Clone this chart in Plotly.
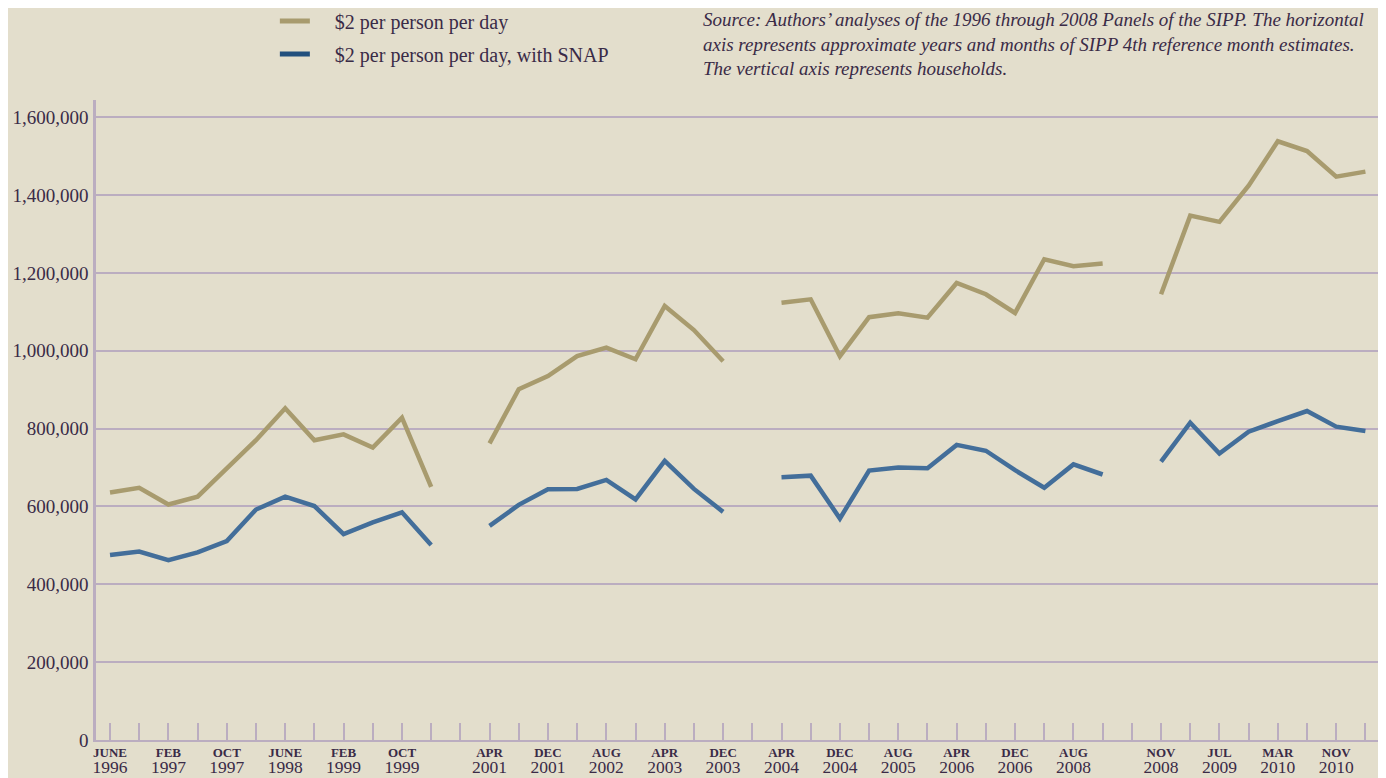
import plotly.graph_objects as go

# 44 four-month slots, June 1996 .. March 2011 (None = no estimate / panel gap)
slots = list(range(44))

poverty_2 = [
    636000, 648000, 605000, 625000, 698000, 770000, 852000, 770000, 785000, 751000, 828000, 650000,
    None,
    762000, 901000, 935000, 986000, 1008000, 978000, 1115000, 1053000, 973000,
    None,
    1123000, 1132000, 986000, 1086000, 1096000, 1085000, 1174000, 1145000, 1097000, 1235000, 1217000, 1224000,
    None,
    1145000, 1347000, 1331000, 1424000, 1538000, 1513000, 1447000, 1460000,
]

poverty_2_snap = [
    475000, 484000, 462000, 482000, 511000, 592000, 625000, 601000, 529000, 559000, 585000, 501000,
    None,
    550000, 604000, 644000, 645000, 668000, 618000, 717000, 645000, 586000,
    None,
    675000, 679000, 569000, 692000, 700000, 698000, 758000, 743000, 693000, 648000, 708000, 682000,
    None,
    715000, 815000, 736000, 792000, 819000, 845000, 805000, 794000,
]

label_slots = [0, 2, 4, 6, 8, 10, 13, 15, 17, 19, 21, 23, 25, 27, 29, 31, 33, 36, 38, 40, 42]
label_months = ["JUNE", "FEB", "OCT", "JUNE", "FEB", "OCT", "APR", "DEC", "AUG", "APR", "DEC",
                "APR", "DEC", "AUG", "APR", "DEC", "AUG", "NOV", "JUL", "MAR", "NOV"]
label_years = ["1996", "1997", "1997", "1998", "1999", "1999", "2001", "2001", "2002", "2003", "2003",
               "2004", "2004", "2005", "2006", "2006", "2008", "2008", "2009", "2010", "2010"]

y_ticks = [0, 200000, 400000, 600000, 800000, 1000000, 1200000, 1400000, 1600000]

series_names = ["$2 per person per day", "$2 per person per day, with SNAP"]

GOLD = "#A89B6E"
BLUE = "#436E9A"
BLUE_LEGEND = "#22507E"
TEXT = "#3A2B47"
GRID = "#BBADC0"
BG = "#E3DECC"
FONT = "Liberation Serif"

fig = go.Figure()
fig.add_trace(go.Scatter(x=slots, y=poverty_2, mode="lines", connectgaps=False,
                         line=dict(color=GOLD, width=4.5), showlegend=False, hoverinfo="skip"))
fig.add_trace(go.Scatter(x=slots, y=poverty_2_snap, mode="lines", connectgaps=False,
                         line=dict(color=BLUE, width=4.5), showlegend=False, hoverinfo="skip"))
# legend entries
nb = "\u00a0\u00a0\u00a0\u00a0"
fig.add_trace(go.Scatter(x=[None], y=[None], mode="lines", name=nb + series_names[0],
                         line=dict(color=GOLD, width=5), legendgroup="a"))
fig.add_trace(go.Scatter(x=[None], y=[None], mode="lines", name=nb + series_names[1],
                         line=dict(color=BLUE_LEGEND, width=5), legendgroup="b"))

ticktext = [f"<span style='font-size:13px'><b>{m}</b></span><br><span style='font-size:17.5px'>{y}</span>"
            for m, y in zip(label_months, label_years)]

# the page adds an 8px body margin, so the figure is sized/margined to compensate
fig.update_layout(
    width=1378, height=770,
    margin=dict(l=88, r=6, t=92, b=38, autoexpand=False),
    paper_bgcolor=BG, plot_bgcolor=BG,
    font=dict(family=FONT, color=TEXT, size=17),
    legend=dict(x=0.1393, y=1.154, xanchor="left", yanchor="top", bgcolor="rgba(0,0,0,0)",
                font=dict(size=20, color=TEXT), tracegroupgap=4, itemwidth=30),
    xaxis=dict(range=[-0.48, 43.5], tickvals=label_slots, ticktext=ticktext, automargin=False,
               ticks="inside", ticklen=17, tickcolor=GRID, tickwidth=1.5,
               showgrid=False, zeroline=False, showline=True, linecolor=GRID, linewidth=2,
               tickfont=dict(size=12.5, color=TEXT, family=FONT), tickangle=0,
               ticklabelstandoff=0,
               minor=dict(tick0=0, dtick=1, ticks="inside", ticklen=17, tickcolor=GRID,
                          tickwidth=1.5, showgrid=False)),
    yaxis=dict(range=[0, 1644000], tickvals=y_ticks, automargin=False,
               ticktext=[f"{v:,}" for v in y_ticks],
               showgrid=True, gridcolor=GRID, gridwidth=1.5, zeroline=False,
               showline=True, linecolor=GRID, linewidth=2.5, ticks="",
               tickfont=dict(size=19, color=TEXT, family=FONT), ticklabelstandoff=1),
    annotations=[dict(
        xref="paper", yref="paper", x=0.4712, y=1.1456, xanchor="left", yanchor="top",
        align="left", showarrow=False,
        font=dict(size=19, color=TEXT, family=FONT),
        text="<i>Source: Authors’ analyses of the 1996 through 2008 Panels of the SIPP. The horizontal<br>"
             "axis represents approximate years and months of SIPP 4th reference month estimates.<br>"
             "The vertical axis represents households.</i>",
    )],
)

fig.write_html("out.html")
